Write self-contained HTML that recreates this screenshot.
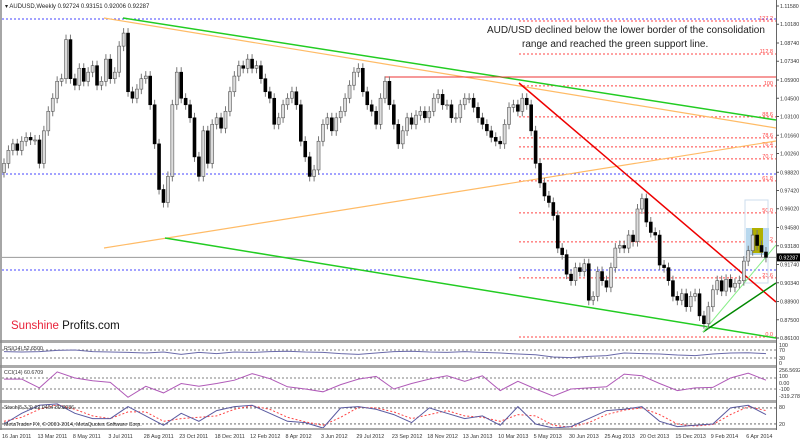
<!DOCTYPE html>
<html><head><meta charset="utf-8"><style>
html,body{margin:0;padding:0;background:#fff;}
svg{display:block;font-family:"Liberation Sans",sans-serif;}
</style></head><body>
<svg id="c" width="800" height="440" viewBox="0 0 800 440" xmlns="http://www.w3.org/2000/svg">
<rect x="0" y="0" width="800" height="440" fill="#fff"/>
<g id="main"></g>
<g id="ind"></g>
<g id="axes"></g>
</svg>
<script>
const closes=[0.995,1.005,1.010,1.005,1.012,1.015,1.013,1.013,0.995,1.020,1.035,1.045,1.058,1.060,1.090,1.060,1.055,1.068,1.058,1.065,1.070,1.055,1.058,1.075,1.060,1.065,1.085,1.095,1.050,1.045,1.052,1.060,1.062,1.040,1.010,0.975,0.965,0.985,1.040,1.065,1.045,1.040,1.030,1.000,0.985,1.020,0.995,1.025,1.030,1.022,1.035,1.050,1.062,1.070,1.068,1.075,1.068,1.070,1.060,1.050,1.045,1.025,1.030,1.040,1.045,1.050,1.040,1.012,1.000,0.985,0.990,1.012,1.025,1.030,1.020,1.030,1.035,1.045,1.055,1.065,1.068,1.050,1.040,1.035,1.025,1.045,1.058,1.040,1.025,1.010,1.020,1.030,1.025,1.032,1.035,1.030,1.035,1.045,1.048,1.040,1.040,1.030,1.030,1.040,1.045,1.045,1.038,1.030,1.025,1.020,1.015,1.012,1.010,1.025,1.038,1.040,1.035,1.045,1.040,1.020,0.995,0.980,0.970,0.965,0.955,0.930,0.925,0.910,0.905,0.915,0.912,0.918,0.890,0.893,0.912,0.905,0.900,0.915,0.930,0.932,0.930,0.940,0.935,0.960,0.968,0.950,0.942,0.940,0.917,0.915,0.905,0.893,0.890,0.895,0.885,0.893,0.895,0.878,0.872,0.885,0.898,0.905,0.897,0.906,0.900,0.903,0.905,0.920,0.928,0.940,0.932,0.927,0.9229];
const firstOpen=0.988;
const priceTicks=["1.11580","1.10180","1.08740","1.07340","1.05900","1.04500","1.03100","1.01660","1.00260","0.98820","0.97420","0.96020","0.94580","0.93180","0.91740","0.90340","0.88900","0.87500","0.86100"];
const fibLevels=[1.1043,1.0790,1.0545,1.0307,1.0146,1.0077,0.9985,0.9816,0.9570,0.9348,0.9071,0.8618];
const fibLabels=["127.2","112.8","100","88.6","78.6","76.4","70.7","61.8","50.0","38.2","23.6","0.0"];
const dateLabels=["16 Jan 2011","13 Mar 2011","8 May 2011","3 Jul 2011","28 Aug 2011","23 Oct 2011","18 Dec 2011","12 Feb 2012","8 Apr 2012","3 Jun 2012","29 Jul 2012","23 Sep 2012","18 Nov 2012","13 Jan 2013","10 Mar 2013","5 May 2013","30 Jun 2013","25 Aug 2013","20 Oct 2013","15 Dec 2013","9 Feb 2014","6 Apr 2014"];
const rsi=[62,60,62,68,70,62,60,58,55,60,48,58,52,60,58,62,64,60,58,52,48,55,62,64,60,58,62,58,55,50,46,35,32,38,42,55,52,50,45,42,50,55,56,52];
const cci=[80,80,-80,210,100,50,20,-250,-50,-170,0,-50,0,60,180,90,-60,-100,-150,-20,80,130,-100,0,80,140,40,140,-130,40,-100,-230,-100,-80,-60,170,140,0,-130,-80,-70,100,190,60];
const stochMain=[20,60,90,95,60,40,40,85,50,15,60,30,70,85,90,60,30,25,5,80,85,75,55,25,80,60,40,50,15,85,20,5,10,40,70,75,85,30,10,15,20,80,90,55];
const stochSig=[30,45,75,92,75,50,40,65,65,30,40,45,50,75,88,75,45,28,15,45,82,80,65,40,55,70,50,45,30,55,50,15,8,25,55,72,80,55,20,12,18,55,85,70];

const NS="http://www.w3.org/2000/svg";
const X0=4,DX=4.43,RIGHT=776;
const xw=i=>X0+i*DX;
const yp=p=>6+(1.1158-p)*1303;
function mk(parent,tag,attrs,text){const e=document.createElementNS(NS,tag);for(const k in attrs)e.setAttribute(k,attrs[k]);if(text!==undefined)e.textContent=text;parent.appendChild(e);return e;}
const main=document.getElementById('main'),ind=document.getElementById('ind'),axes=document.getElementById('axes');

[[19,"#4444ff"],[174,"#4444ff"],[270,"#4444ff"]].forEach(([y,c])=>{
 const l=mk(main,'line',{x1:2,x2:RIGHT,y1:y,y2:y,stroke:c,'stroke-dasharray':'2,2','stroke-width':1});
 
 
});
const cur=mk(main,'line',{x1:2,x2:RIGHT,y1:yp(0.92287),y2:yp(0.92287),stroke:'#999','stroke-width':1});



fibLevels.forEach((p,i)=>{
 const y=yp(p);
 const l=mk(main,'line',{x1:519,x2:RIGHT,y1:y,y2:y,stroke:'#f44','stroke-dasharray':'2,2','stroke-width':1});
 
 
 const t=mk(main,'text',{x:773,y:y-1,'font-size':5.5,fill:'#f44','text-anchor':'end'},fibLabels[i]);
 
 
});

const r1=mk(main,'rect',{x:745,y:200,width:23,height:83,fill:'none',stroke:'#cde','stroke-width':1});


const r2=mk(main,'rect',{x:746,y:228,width:23,height:27,fill:'#b8d8ee'});


const r3=mk(main,'rect',{x:752,y:228,width:11,height:25,fill:'#b0b000'});



[[123,18,776,120,'#2c2',1.5,'upper-green-trendline'],[104,18,776,128,'#fb6',1.2,'upper-orange-trendline'],[104,248,776,141,'#fb6',1.2,'lower-orange-trendline'],[165,238,776,338,'#2c2',1.5,'lower-green-support-line'],[519,83,776,302,'#e00',1.5,'red-downtrend-line'],[703,332,776,283,'#080',1.5,'dark-green-support-line'],[703,332,776,245,'#8e8',1,'light-green-support-line'],[385,77,776,77,'#e33',1,'red-resistance-line']].forEach(a=>{
 const l=mk(main,'line',{x1:a[0],y1:a[1],x2:a[2],y2:a[3],stroke:a[4],'stroke-width':a[5]});
 
 
});

closes.forEach((c,i)=>{
 const o=i===0?firstOpen:closes[i-1];
 const x=xw(i);
 const hi=Math.max(o,c),lo=Math.min(o,c);
 const w=mk(main,'line',{x1:x,x2:x,y1:yp(hi)-5,y2:yp(lo)+5,stroke:'#777','stroke-width':1});
 
 
 const bull=c>=o;
 const h=Math.max(1,yp(lo)-yp(hi));
 const b=mk(main,'rect',{x:x-1.5,y:yp(hi),width:3,height:h,fill:bull?'#ddd':'#000',stroke:bull?'#555':'#000','stroke-width':0.6});
 
 
});

const t1=mk(main,'text',{x:487,y:33,'font-size':10,fill:'#222'},"AUD/USD declined below the lower border of the  consolidation");


const t2=mk(main,'text',{x:522,y:47,'font-size':10,fill:'#222'},"range and reached the green support line.");


const hdr=mk(main,'text',{x:5,y:8,'font-size':6,fill:'#222'},"\u25BE AUDUSD,Weekly  0.92724 0.93151 0.92006 0.92287");


const logo=mk(main,'text',{x:11,y:329,'font-size':11.5},"");


mk(logo,'tspan',{fill:'#e8223a'},"Sunshine ");
mk(logo,'tspan',{fill:'#111'},"Profits.com");

[[340,3],[365,3],[400,3],[428,2]].forEach(([y,h])=>{
 const s=mk(axes,'rect',{x:0,y:y,width:RIGHT,height:h,fill:'#aaa'});
 
 
});
const lb=mk(axes,'line',{x1:1,x2:1,y1:0,y2:430,stroke:'#888','stroke-width':1.5});


const rb=mk(axes,'line',{x1:RIGHT+0.5,x2:RIGHT+0.5,y1:0,y2:430,stroke:'#666','stroke-width':1});



priceTicks.forEach(s=>{
 const y=yp(parseFloat(s));
 mk(axes,'line',{x1:RIGHT,x2:RIGHT+3,y1:y,y2:y,stroke:'#555'});
 const t=mk(axes,'text',{x:780,y:y+2,'font-size':5.3,fill:'#333'},s);
 
 
});
const pb=mk(axes,'rect',{x:777,y:yp(0.92287)-4,width:23,height:8,fill:'#000'});


const pt=mk(axes,'text',{x:779,y:yp(0.92287)+2,'font-size':5.3,fill:'#fff'},"0.92287");



dateLabels.forEach((s,k)=>{
 const x=xw(k*8);
 const t=mk(axes,'text',{x:x-2,y:438,'font-size':5.4,fill:'#333'},s);
 
 
});

const xi=k=>xw(k*4);
function poly(arr,yf,color,dash,name){
 const pts=arr.map((v,k)=>xi(k).toFixed(1)+','+yf(v).toFixed(1)).join(' ');
 const p=mk(ind,'polyline',{points:pts,fill:'none',stroke:color,'stroke-width':1,'stroke-dasharray':dash||'none'});
 
 
}
function level(y,name){
 const l=mk(ind,'line',{x1:2,x2:RIGHT,y1:y,y2:y,stroke:'#555','stroke-dasharray':'2,2','stroke-width':0.8});
 
 
}
function lab(x,y,s,name){
 const t=mk(ind,'text',{x:x,y:y,'font-size':5.3,fill:'#333'},s);
 
 
}
const yr=v=>364-v*0.2;
level(yr(70),'rsi-level-70');level(yr(30),'rsi-level-30');
poly(rsi,yr,'#6a6aaa',null,'rsi-line');
lab(4,350,"RSI(14) 52.6500",'rsi-title');
lab(779,347,"100",'rsi-axis-label');lab(779,352,"70",'rsi-axis-label');lab(779,360,"30",'rsi-axis-label');lab(779,365,"0",'rsi-axis-label');
const yc=v=>383.5-v*0.055;
level(yc(100),'cci-level-100');level(yc(-100),'cci-level-minus-100');
poly(cci,yc,'#b05ab8',null,'cci-line');
lab(4,374,"CCI(14) 60.6709",'cci-title');
lab(779,372,"256.5692",'cci-axis-label');lab(779,378,"100",'cci-axis-label');lab(779,385,"0.00",'cci-axis-label');lab(779,391,"-100",'cci-axis-label');lab(779,398,"-319.2787",'cci-axis-label');
const ys=v=>429.3-v*0.267;
level(ys(80),'stoch-level-80');level(ys(20),'stoch-level-20');
poly(stochSig,ys,'#f44','2,2','stoch-signal-line');
poly(stochMain,ys,'#5a5aa0',null,'stoch-main-line');
lab(4,409,"Stoch(5,3,3) 62.0464 80.8086",'stoch-title');
lab(4,426,"MetaTrader FX, \u00A9 2001-2014, MetaQuotes Software Corp.",'copyright-note');
lab(779,409,"80",'stoch-axis-label');lab(779,426,"20",'stoch-axis-label');
</script>
</body></html>
